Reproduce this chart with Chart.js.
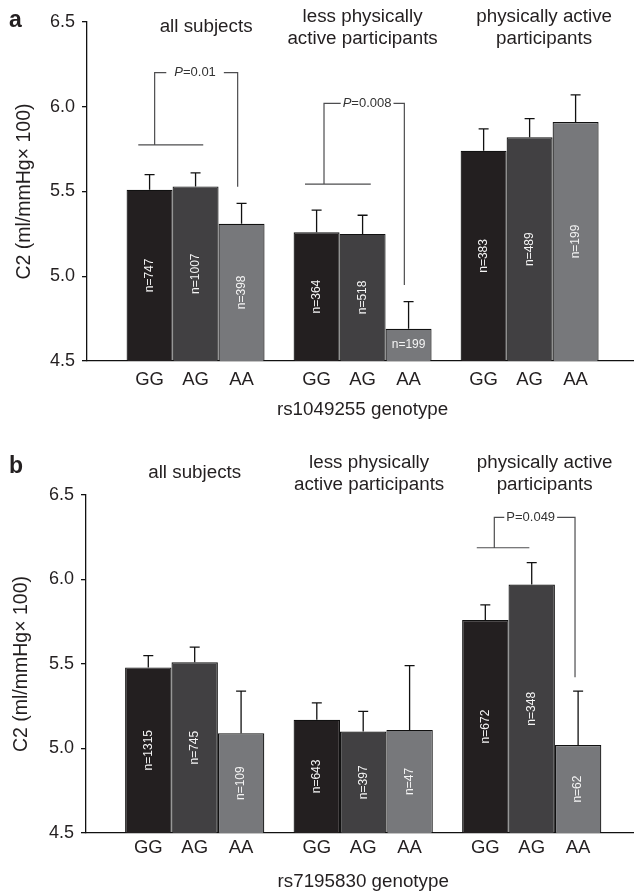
<!DOCTYPE html>
<html>
<head>
<meta charset="utf-8">
<script src="https://cdn.jsdelivr.net/npm/chart.js@4"></script>
<style>
  html, body { margin: 0; padding: 0; background: #ffffff; }
  canvas { position: absolute; left: 0; }
</style>
</head>
<body>
<canvas id="chartA" width="634" height="440" style="top:0px"></canvas>
<canvas id="chartB" width="634" height="452" style="top:440px"></canvas>
<script>
// ---------- DATA ----------
const genotypes = ['GG', 'AG', 'AA'];
const groupIdx = [0, 1, 2];
const groupTitles = [['all subjects'], ['less physically', 'active participants'], ['physically active', 'participants']];
const yTicks = [4.5, 5.0, 5.5, 6.0, 6.5];

// Panel a: rs1049255
const aGG = [5.51, 5.26, 5.74];
const aAG = [5.53, 5.25, 5.82];
const aAA = [5.31, 4.69, 5.91];
const aErrGG = [0.09, 0.13, 0.13];
const aErrAG = [0.08, 0.11, 0.11];
const aErrAA = [0.12, 0.16, 0.16];
const aNGG = [747, 364, 383];
const aNAG = [1007, 518, 489];
const aNAA = [398, 199, 199];

// Panel b: rs7195830
const bGG = [5.48, 5.17, 5.76];
const bAG = [5.51, 5.10, 5.97];
const bAA = [5.09, 5.11, 5.02];
const bErrGG = [0.07, 0.10, 0.09];
const bErrAG = [0.09, 0.12, 0.13];
const bErrAA = [0.25, 0.38, 0.32];
const bNGG = [1315, 643, 672];
const bNAG = [745, 397, 348];
const bNAA = [109, 47, 62];

// ---------- STYLE ----------
const FONT = '"Liberation Sans", Arial, Helvetica, sans-serif';
const TXT = '#231f20';
const barColors = ['#231f20', '#414042', '#77787b'];
Chart.defaults.font.family = FONT;
Chart.defaults.color = TXT;

function makeDatasets(vals, errs, ns) {
  return genotypes.map((g, k) => ({
    label: g,
    data: groupIdx.map((gi, i) => ({ x: gi, y: vals[k][i] })),
    errVals: errs[k],
    nVals: ns[k],
    backgroundColor: barColors[k],
    borderColor: '#111111',
    borderWidth: 1.2,
    borderSkipped: false,
    categoryPercentage: 0.826,
    barPercentage: 1.0
  }));
}

function annotPlugin(p) {
  return {
    id: 'annot' + p.id,
    afterDatasetsDraw(chart) {
      const ctx = chart.ctx, xs = chart.scales.x, ys = chart.scales.y;
      const area = chart.chartArea;
      const basePx = ys.getPixelForValue(yTicks[0]);
      const raw = chart.config.data.datasets;
      ctx.save();
      // error bars
      ctx.strokeStyle = '#111111';
      ctx.lineWidth = 1.3;
      raw.forEach((ds, di) => {
        const meta = chart.getDatasetMeta(di);
        meta.data.forEach((el, i) => {
          const bx = el.x;
          const by = ys.getPixelForValue(ds.data[i].y);
          const top = ys.getPixelForValue(ds.data[i].y + ds.errVals[i]);
          ctx.beginPath();
          ctx.moveTo(bx, by);
          ctx.lineTo(bx, top);
          ctx.moveTo(bx - 5, top);
          ctx.lineTo(bx + 5, top);
          ctx.stroke();
        });
      });
      // n labels
      ctx.font = '12px ' + FONT;
      ctx.fillStyle = '#f4f4f4';
      ctx.textAlign = 'center';
      ctx.textBaseline = 'middle';
      raw.forEach((ds, di) => {
        const meta = chart.getDatasetMeta(di);
        meta.data.forEach((el, i) => {
          const txt = 'n=' + ds.nVals[i];
          const w = ctx.measureText(txt).width;
          const by = ys.getPixelForValue(ds.data[i].y);
          const h = basePx - by;
          const cy = (by + basePx) / 2;
          const bx = el.x;
          if (h < w + 8) {
            ctx.fillText(txt, bx, cy);
          } else {
            ctx.save();
            ctx.translate(bx, cy);
            ctx.rotate(-Math.PI / 2);
            ctx.fillText(txt, 0, 0);
            ctx.restore();
          }
        });
      });
      // genotype labels under bars
      ctx.font = '18.5px ' + FONT;
      ctx.fillStyle = TXT;
      ctx.textAlign = 'center';
      ctx.textBaseline = 'middle';
      raw.forEach((ds, di) => {
        const meta = chart.getDatasetMeta(di);
        meta.data.forEach((el) => {
          ctx.fillText(genotypes[di], el.x, area.bottom + p.tickDy);
        });
      });
      // axis title
      ctx.font = '18.8px ' + FONT;
      ctx.fillText(p.xTitle, xs.getPixelForValue(1), area.bottom + p.xTitleDy);
      // group titles
      groupTitles.forEach((lines, gi) => {
        const cx = xs.getPixelForValue(p.titleX[gi]);
        const y0 = lines.length === 1 ? p.titleY1 : p.titleY2;
        lines.forEach((ln, li) => ctx.fillText(ln, cx, y0 + li * 21.5));
      });
      // panel letter
      ctx.font = 'bold 23px ' + FONT;
      ctx.textAlign = 'left';
      ctx.textBaseline = 'alphabetic';
      ctx.fillText(p.letter, 9, p.letterY);
      // significance brackets
      ctx.strokeStyle = '#4d4d4f';
      ctx.lineWidth = 1.2;
      p.brackets.forEach(b => {
        const X = v => xs.getPixelForValue(v), Y = v => ys.getPixelForValue(v);
        const fPart = (b.italic ? 'italic ' : '') + '13px ' + FONT;
        const rPart = '13px ' + FONT;
        ctx.font = fPart; const wP = ctx.measureText('P').width;
        ctx.font = rPart; const wR = ctx.measureText(b.label).width;
        const w = wP + wR;
        const tcx = X(b.tx), ty = Y(b.ty);
        ctx.beginPath();
        ctx.moveTo(X(b.hx0), Y(b.hy)); ctx.lineTo(X(b.hx1), Y(b.hy));
        ctx.moveTo(X(b.vx), Y(b.hy)); ctx.lineTo(X(b.vx), ty);
        ctx.lineTo(tcx - w / 2 - b.gap, ty);
        ctx.moveTo(tcx + w / 2 + b.gap, ty); ctx.lineTo(X(b.rx), ty);
        ctx.lineTo(X(b.rx), Y(b.ry));
        ctx.stroke();
        ctx.fillStyle = '#333333';
        ctx.textBaseline = 'middle';
        ctx.textAlign = 'left';
        ctx.font = fPart; ctx.fillText('P', tcx - w / 2, ty);
        ctx.font = rPart; ctx.fillText(b.label, tcx - w / 2 + wP, ty);
      });
      ctx.restore();
    }
  };
}

function makeChart(id, p, datasets) {
  return new Chart(document.getElementById(id), {
    type: 'bar',
    data: { datasets },
    options: {
      responsive: false,
      devicePixelRatio: 1,
      animation: false,
      layout: { padding: { top: p.padTop, bottom: 0, left: 0, right: 0 } },
      plugins: { legend: { display: false }, tooltip: { enabled: false } },
      scales: {
        x: {
          type: 'linear',
          min: p.xMin, max: p.xMax,
          offset: false,
          grid: { display: false },
          border: { display: true, color: '#111111', width: 1.3 },
          ticks: { display: false },
          afterBuildTicks: s => { s.ticks = groupIdx.map(v => ({ value: v })); },
          afterFit: s => { s.height = p.xAxisH; }
        },
        y: {
          min: yTicks[0], max: yTicks[yTicks.length - 1],
          grid: { display: true, drawOnChartArea: false, drawTicks: true, tickLength: 5, color: '#111111', lineWidth: 1.3 },
          border: { display: true, color: '#111111', width: 1.3 },
          afterBuildTicks: s => { s.ticks = yTicks.map(v => ({ value: v })); },
          ticks: { callback: v => Number(v).toFixed(1), font: { size: 18 }, color: TXT, padding: 7 },
          title: { display: true, text: 'C2 (ml/mmHg\u00d7 100)', font: { size: 19.5 }, color: TXT, padding: { top: p.yTitlePad, bottom: 0 } },
          afterFit: s => { s.width = p.yAxisW; }
        }
      }
    },
    plugins: [annotPlugin(p)]
  });
}

const panelA = {
  id: 'A', letter: 'a', letterY: 27,
  padTop: 22, xAxisH: 79, yAxisW: 87, yTitlePad: 13,
  xMin: -0.65, xMax: 2.625,
  tickDy: 19, xTitleDy: 49, xTitle: 'rs1049255 genotype',
  titleX: [0.063, 1.0, 2.087], titleY1: 27, titleY2: 17,
  brackets: [
    { hx0: -0.343, hx1: 0.046, hy: 5.775, vx: -0.245, ty: 6.201, rx: 0.252, ry: 5.528, tx: -0.003, label: '=0.01', italic: true, gap: 8 },
    { hx0: 0.655, hx1: 1.049, hy: 5.544, vx: 0.769, ty: 6.020, rx: 1.250, ry: 4.948, tx: 1.027, label: '=0.008', italic: true, gap: 2 }
  ]
};
const panelB = {
  id: 'B', letter: 'b', letterY: 33,
  padTop: 55, xAxisH: 59, yAxisW: 86, yTitlePad: 10,
  xMin: -0.645, xMax: 2.607,
  tickDy: 15, xTitleDy: 49, xTitle: 'rs7195830 genotype',
  titleX: [0.0, 1.035, 2.077], titleY1: 33, titleY2: 23,
  brackets: [
    { hx0: 1.674, hx1: 1.986, hy: 6.188, vx: 1.778, ty: 6.368, rx: 2.257, ry: 5.421, tx: 1.994, label: '=0.049', italic: false, gap: 2 }
  ]
};

makeChart('chartA', panelA, makeDatasets([aGG, aAG, aAA], [aErrGG, aErrAG, aErrAA], [aNGG, aNAG, aNAA]));
makeChart('chartB', panelB, makeDatasets([bGG, bAG, bAA], [bErrGG, bErrAG, bErrAA], [bNGG, bNAG, bNAA]));
</script>
</body>
</html>
